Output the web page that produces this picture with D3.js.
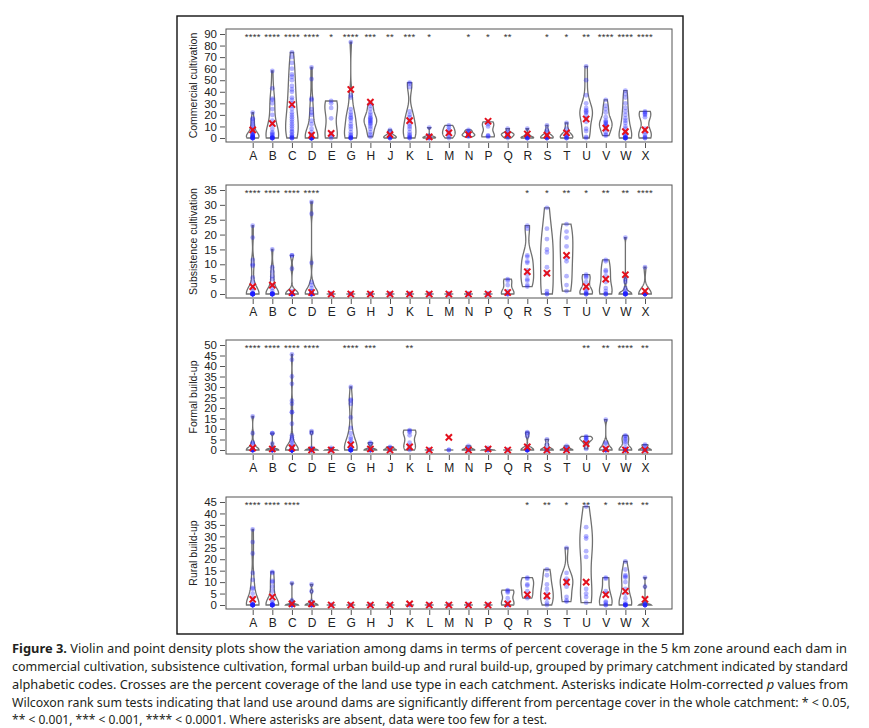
<!DOCTYPE html>
<html>
<head>
<meta charset="utf-8">
<script src="https://cdn.jsdelivr.net/npm/d3@7"></script>
<style>
  body { margin: 0; background: #fff; }
  svg { display: block; }
</style>
</head>
<body>
<svg id="chart"></svg>
<script>
const categories = ["A","B","C","D","E","G","H","J","K","L","M","N","P","Q","R","S","T","U","V","W","X"];

// Commercial cultivation
const commercialTicks = [0,10,20,30,40,50,60,70,80,90];
const commercialValues = [
  [0,0,0,0,0,0,1,1,1,2,2,3,3,4,5,6,7,8,10,12,14,16,17,22],
  [0,0,0,0,0,0,1,2,3,4,5,8,12,15,20,25,30,33,34,43,58],
  [0,0,0,1,2,3,5,6,8,10,12,14,16,18,20,22,25,28,30,33,35,40,42,45,50,53,55,60,65,70,74],
  [0,0,0,0,0,0,0,0,0,0,1,1,2,3,5,8,12,15,20,22,25,33,34,51,61],
  [0,2,4,17,26,30,32],
  [0,0,0,0,1,2,3,5,8,10,12,15,17,18,20,22,25,35,37,83],
  [1,3,5,8,10,12,13,14,15,16,17,18,20,22,25,28,30],
  [0,0,0,1,1,2,3,5,7],
  [0,0,1,2,3,5,8,10,12,15,18,20,23,44,47,48],
  [0,0,0,1,1,2,9],
  [0,2,4,5,7,9,11],
  [1,2,2,3,3,4,5,6,7],
  [1,2,2,10,12,14],
  [0,1,2,3,3,4,5,8],
  [0,0,0,0,1,1,2,3,8],
  [0,0,0,0,1,1,2,3,5,7,11],
  [0,0,0,1,2,3,5,8,13],
  [0,1,6,8,14,17,20,22,23,24,26,30,37,50,62],
  [2,3,5,8,10,11,12,13,14,15,18,22,25,28,33],
  [0,0,0,0,0,0,1,2,3,5,8,10,13,15,17,20,23,26,30,35,38,41],
  [0,0,1,3,5,8,18,20,21,22,23]
];
const commercialCross = [7,12.5,29,2.5,4,42,31,3,15,1,4.5,3,14.5,3,3.5,2.5,4.5,16.5,8.5,5.5,7];
const commercialStars = ["****","****","****","****","*","****","***","**","***","*","","*","*","**","","*","*","**","****","****","****"];

// Subsistence cultivation
const subsistenceTicks = [0,5,10,15,20,25,30,35];
const subsistenceValues = [
  [0,0,0,0,0,0,0,0,0,0,0,0,1,2,4,5.5,9.5,10,11.5,19,23],
  [0,0,0,0,0,0,0,0,0,0,1,2,3,5,6,7.5,9,15],
  [0,0,0,0,0,0,0,0,1,8.5,13,13],
  [0,0,0,0,0,0,0,1,1,2,3,4,10.5,27,31],
  [0,0,0],
  [0,0,0],
  [0,0,0],
  [0,0,0],
  [0,0,0],
  [0,0,0],
  [0,0,0],
  [0,0,0],
  [0,0,0],
  [0,0,0,1,3,4.5,5],
  [2.5,3,4.5,5,6.5,8,10.5,11,12.5,13,22,23],
  [0,0,1,7,9,14,15,18.5,22,29],
  [1,3,6,11,12,16,19,21,23.5],
  [0,0,0,0.5,1,2,4,5.5,6,6.5],
  [0,0,0,1,2,4,6,7.5,8,11,11.5],
  [0,0,0,0,0,0,0,0,0.5,1,2,4,5,19],
  [0,0,0,0,0,0,0,9]
];
const subsistenceCross = [2.5,3,0.5,0.5,0,0,0,0,0,0,0,0,0,0.5,7.5,7,13,2.5,5,6.5,1];
const subsistenceStars = ["****","****","****","****","","","","","","","","","","","*","*","**","*","**","**","****"];

// Formal build-up
const formalTicks = [0,5,10,15,20,25,30,35,40,45,50];
const formalValues = [
  [0,0,0,0,0,0,0,0,1,3,3.5,8,16],
  [0,0,0,0,0,0,0,0,1,3,8,8],
  [0,0,0,0,0,0,0,0,0,0,0,0,0,0,0,0,0,0,0,0,0,1,1,2,3,4,5,6,7,12.5,18,18,22,23.5,31.5,35,43,45.5],
  [0,0,0,0,0,0,1,8,9],
  [0,0,0,1],
  [0,0,0,0,0,0,0,0,0,1,2,3,4,5,6,8,10.5,15.5,22,23.5,24,30],
  [0,0,0,0,0,3,3.5],
  [0,0,0,1,1.5],
  [0,1,2,3.5,7,8.5,9,9.5],
  [0,0,0],
  [0,0],
  [0,0,0,1,2],
  [0,0,0,1],
  [0,0],
  [0,0,0,0,0,0,0,0,1.5,6.5,8,8.5],
  [0,0,0,0,2.5,5],
  [0,0,0,1,2],
  [0.5,3,4.5,5,5.5,6,6.5],
  [0,0,0,0,0,1,3,3.5,14.5],
  [0,0,0,0,0,0,0,1,3,4,5,5.5,6.5,7],
  [0,0,0,0,2,2.5]
];
const formalCross = [1,0.5,1,0,0,2.5,0.5,0,1.5,0,6,0,0.5,0,1.5,0,0,3,0.5,0,0];
const formalStars = ["****","****","****","****","","****","***","","**","","","","","","","","","**","**","****","**"];

// Rural build-up
const ruralTicks = [0,5,10,15,20,25,30,35,40,45];
const ruralValues = [
  [0,0,0,0,0,0,0,0,0,0,1,3,5,7,7.5,11,14,22.5,27.5,33],
  [0,0,0,0,0,0,0,0,0,0,1,2,4,6,8,10,10.5,14,14.5],
  [0,0,0,0,0,0,1,2,9.5],
  [0,0,0,0,0,0,1.5,6,9],
  [0,0],
  [0,0],
  [0,0],
  [0,0],
  [0,0],
  [0,0],
  [0,0],
  [0,0],
  [0,0],
  [0,0,1,3,5.5,6,6.5],
  [3,4,6,8.5,9,11.5,12],
  [0,1,3,5,7,9,13,15.5],
  [1.5,2,3.5,8,10,10.5,11.5,14,25],
  [1,3.5,5,7,21,23.5,29,30,34,43],
  [0,0,1,1.5,5,6,11.5,12],
  [0,0,0,0,0,0,1,3,5,7,10,12,12.5,13,15.5,19],
  [0,0,0,0,0,0,1,8,12]
];
const ruralCross = [2.5,3.5,0.5,0.5,0,0,0,0,0.5,0,0,0,0,0.5,4.5,4,10,10,4.5,6,2.5];
const ruralStars = ["****","****","****","","","","","","","","","","","","*","**","*","**","*","****","**"];

const captionLines = [
  [["Figure 3.", "bold"], [" Violin and point density plots show the variation among dams in terms of percent coverage in the 5 km zone around each dam in", ""]],
  [["commercial cultivation, subsistence cultivation, formal urban build-up and rural build-up, grouped by primary catchment indicated by standard", ""]],
  [["alphabetic codes. Crosses are the percent coverage of the land use type in each catchment. Asterisks indicate Holm-corrected ", ""], ["p", "italic"], [" values from", ""]],
  [["Wilcoxon rank sum tests indicating that land use around dams are significantly different from percentage cover in the whole catchment: * < 0.05,", ""]],
  [["** < 0.001, *** < 0.001, **** < 0.0001. Where asterisks are absent, data were too few for a test.", ""]]
];

const width = 869;
const height = 728;

const svg = d3.select("#chart")
    .attr("width", width)
    .attr("height", height);

// outer frame
svg.append("rect")
    .attr("x", 177).attr("y", 16)
    .attr("width", 506).attr("height", 618)
    .attr("fill", "none")
    .attr("stroke", "#111")
    .attr("stroke-width", 1.4);

const panels = [
    {title: "Commercial cultivation", values: commercialValues, cross: commercialCross, stars: commercialStars, ticks: commercialTicks, top: 29, bottom: 142},
    {title: "Subsistence cultivation", values: subsistenceValues, cross: subsistenceCross, stars: subsistenceStars, ticks: subsistenceTicks, top: 185, bottom: 298},
    {title: "Formal build-up", values: formalValues, cross: formalCross, stars: formalStars, ticks: formalTicks, top: 340, bottom: 454},
    {title: "Rural build-up", values: ruralValues, cross: ruralCross, stars: ruralStars, ticks: ruralTicks, top: 497, bottom: 609}
];

const boxLeft = 226, boxRight = 672;
const x = d3.scalePoint().domain(categories).range([252.7, 645]);
const maxHalf = 6.3;
const axisFont = "Liberation Sans, Arial, sans-serif";

// bandwidth like R's bw.nrd0
function bandwidth(v) {
    const s = v.slice().sort(d3.ascending);
    const sd = d3.deviation(s) || 0;
    const iqr = d3.quantile(s, 0.75) - d3.quantile(s, 0.25);
    let lo = Math.min(sd, iqr / 1.34);
    if (!(lo > 0)) lo = sd || Math.abs(s[0]) || 1;
    return 0.9 * lo * Math.pow(s.length, -0.2);
}

function violinProfile(v) {
    const bw = bandwidth(v);
    const lo = d3.min(v), hi = d3.max(v);
    const n = 60;
    const pts = d3.range(n + 1).map(i => {
        const t = lo + (hi - lo) * i / n;
        const dens = d3.sum(v, vi => Math.exp(-0.5 * ((t - vi) / bw) ** 2));
        return {t, dens};
    });
    const dmax = d3.max(pts, p => p.dens);
    pts.forEach(p => p.w = maxHalf * p.dens / dmax);
    return pts;
}

panels.forEach(p => {
    const y = d3.scaleLinear()
        .domain([0, d3.max(p.ticks)])
        .range([p.bottom - 4, p.top + 5]);

    const g = svg.append("g");

    g.append("rect")
        .attr("x", boxLeft).attr("y", p.top)
        .attr("width", boxRight - boxLeft).attr("height", p.bottom - p.top)
        .attr("fill", "none")
        .attr("stroke", "#555")
        .attr("stroke-width", 1);

    // y axis
    const yAxis = g.append("g")
        .attr("transform", `translate(${boxLeft - 1},0)`)
        .call(d3.axisLeft(y).tickValues(p.ticks).tickSize(5).tickPadding(3).tickFormat(d3.format("d")));
    yAxis.select(".domain").remove();
    yAxis.selectAll("line").attr("stroke", "#555");
    yAxis.selectAll("text")
        .attr("font-family", axisFont)
        .attr("font-size", 11.5)
        .attr("fill", "#222");

    // x axis
    const xAxis = g.append("g")
        .attr("transform", `translate(0,${p.bottom + 1})`)
        .call(d3.axisBottom(x).tickSize(5).tickPadding(3));
    xAxis.select(".domain").remove();
    xAxis.selectAll("line").attr("stroke", "#555");
    xAxis.selectAll("text")
        .attr("font-family", axisFont)
        .attr("font-size", 12)
        .attr("fill", "#222");

    // y title
    g.append("text")
        .attr("transform", `translate(197,${(p.top + p.bottom) / 2}) rotate(-90)`)
        .attr("text-anchor", "middle")
        .attr("font-family", axisFont)
        .attr("font-size", 10.5)
        .attr("fill", "#222")
        .text(p.title);

    categories.forEach((c, i) => {
        const v = p.values[i];
        const cx = x(c);
        const cg = g.append("g");

        if (d3.deviation(v) > 0) {
            const prof = violinProfile(v);
            const area = d3.area()
                .x0(d => cx - d.w)
                .x1(d => cx + d.w)
                .y(d => y(d.t));
            cg.append("path")
                .attr("d", area(prof))
                .attr("fill", "none")
                .attr("stroke", "#707070")
                .attr("stroke-width", 1.3);
        } else {
            cg.append("line")
                .attr("x1", cx - 4.5).attr("x2", cx + 4.5)
                .attr("y1", y(v[0])).attr("y2", y(v[0]))
                .attr("stroke", "#707070")
                .attr("stroke-width", 1.3);
        }

        cg.selectAll("circle")
            .data(v)
            .join("circle")
            .attr("cx", cx)
            .attr("cy", d => y(d))
            .attr("r", 2.4)
            .attr("fill", "#1f1fff")
            .attr("fill-opacity", 0.33);

        // cross
        const cy = y(p.cross[i]);
        const s = 3.1;
        cg.append("path")
            .attr("d", `M${cx - s},${cy - s}L${cx + s},${cy + s}M${cx - s},${cy + s}L${cx + s},${cy - s}`)
            .attr("stroke", "#e3101c")
            .attr("stroke-width", 2);

        // asterisks
        if (p.stars[i]) {
            cg.append("text")
                .attr("x", cx)
                .attr("y", y(d3.max(p.ticks)) + 5.5)
                .attr("text-anchor", "middle")
                .attr("font-family", axisFont)
                .attr("font-size", 9.5)
                .attr("letter-spacing", 0.3)
                .attr("fill", "#333")
                .text(p.stars[i]);
        }
    });
});

// caption: each line squeezed horizontally to the width it has in the figure
const capY = [653, 671, 689, 707, 724];
const capEnd = [848, 849, 849, 851, 548];
captionLines.forEach((line, i) => {
    const t = svg.append("text")
        .attr("x", 0)
        .attr("y", 0)
        .attr("font-family", "Noto Sans, sans-serif")
        .attr("font-size", 13)
        .attr("fill", "#231f20");
    line.forEach(([txt, style]) => {
        const ts = t.append("tspan").text(txt);
        if (style === "bold") ts.attr("font-weight", "bold");
        if (style === "italic") ts.attr("font-style", "italic");
    });
    const natural = t.node().getComputedTextLength();
    const sx = (capEnd[i] - 12) / natural;
    t.attr("transform", `translate(12,${capY[i]}) scale(${sx},1)`);
});
</script>
</body>
</html>
